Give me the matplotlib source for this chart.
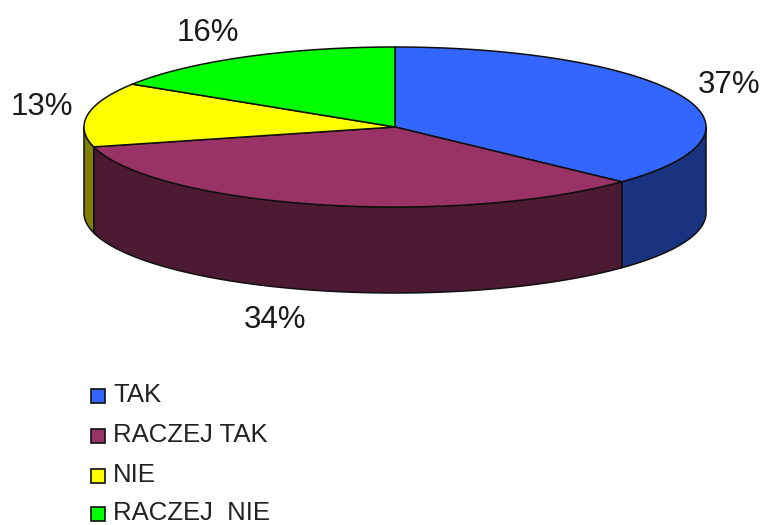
import numpy as np
from matplotlib import pyplot as plt
from matplotlib.patches import Polygon, Rectangle

labels = ['TAK', 'RACZEJ TAK', 'NIE', 'RACZEJ  NIE']
values = [37, 34, 13, 16]
top_colors = ['#3366ff', '#993366', '#ffff00', '#00ff00']
side_colors = ['#1a3380', '#4d1a33', '#808000', '#008000']
pct_pos = [(729, 85), (275, 320), (42, 107), (208, 33)]
legend_y = [396, 436, 476, 514]

cx, cy = 395, 127
rx, ry = 311, 80
depth = 86


def rim(t, dy=0):
    return np.column_stack([cx + rx * np.sin(t), cy + dy - ry * np.cos(t)])


plt.rcParams['font.family'] = ['Liberation Sans', 'DejaVu Sans']
fig = plt.figure(figsize=(7.63, 5.25), dpi=100)
ax = fig.add_axes([0, 0, 1, 1])
ax.set_xlim(0, 763)
ax.set_ylim(525, 0)
ax.axis('off')

edges = np.radians(np.concatenate([[0], np.cumsum(values)]) * 3.6)

# side walls, only the front half of the rim shows
for i in range(len(values)):
    a = max(edges[i], np.pi / 2)
    b = min(edges[i + 1], 3 * np.pi / 2)
    if a >= b:
        continue
    t = np.linspace(a, b, 200)
    pts = np.vstack([rim(t), rim(t[::-1], depth)])
    ax.add_patch(Polygon(pts, closed=True, fc=side_colors[i], ec='#101010', lw=1.1, joinstyle='round'))

# top faces
for i in range(len(values)):
    t = np.linspace(edges[i], edges[i + 1], 300)
    pts = np.vstack([[cx, cy], rim(t)])
    ax.add_patch(Polygon(pts, closed=True, fc=top_colors[i], ec='#101010', lw=1.1, joinstyle='round'))

for v, (x, y) in zip(values, pct_pos):
    ax.text(x, y, f'{v}%', fontsize=22.5, color='#1a1a1a', ha='center', va='center')

for name, color, y in zip(labels, top_colors, legend_y):
    ax.add_patch(Rectangle((91, y - 7), 14, 14, fc=color, ec='#101010', lw=1.2))
    ax.text(113, y - 1, name, fontsize=18.5, color='#222222', ha='left', va='center')

fig.savefig('out.png', dpi=100)
